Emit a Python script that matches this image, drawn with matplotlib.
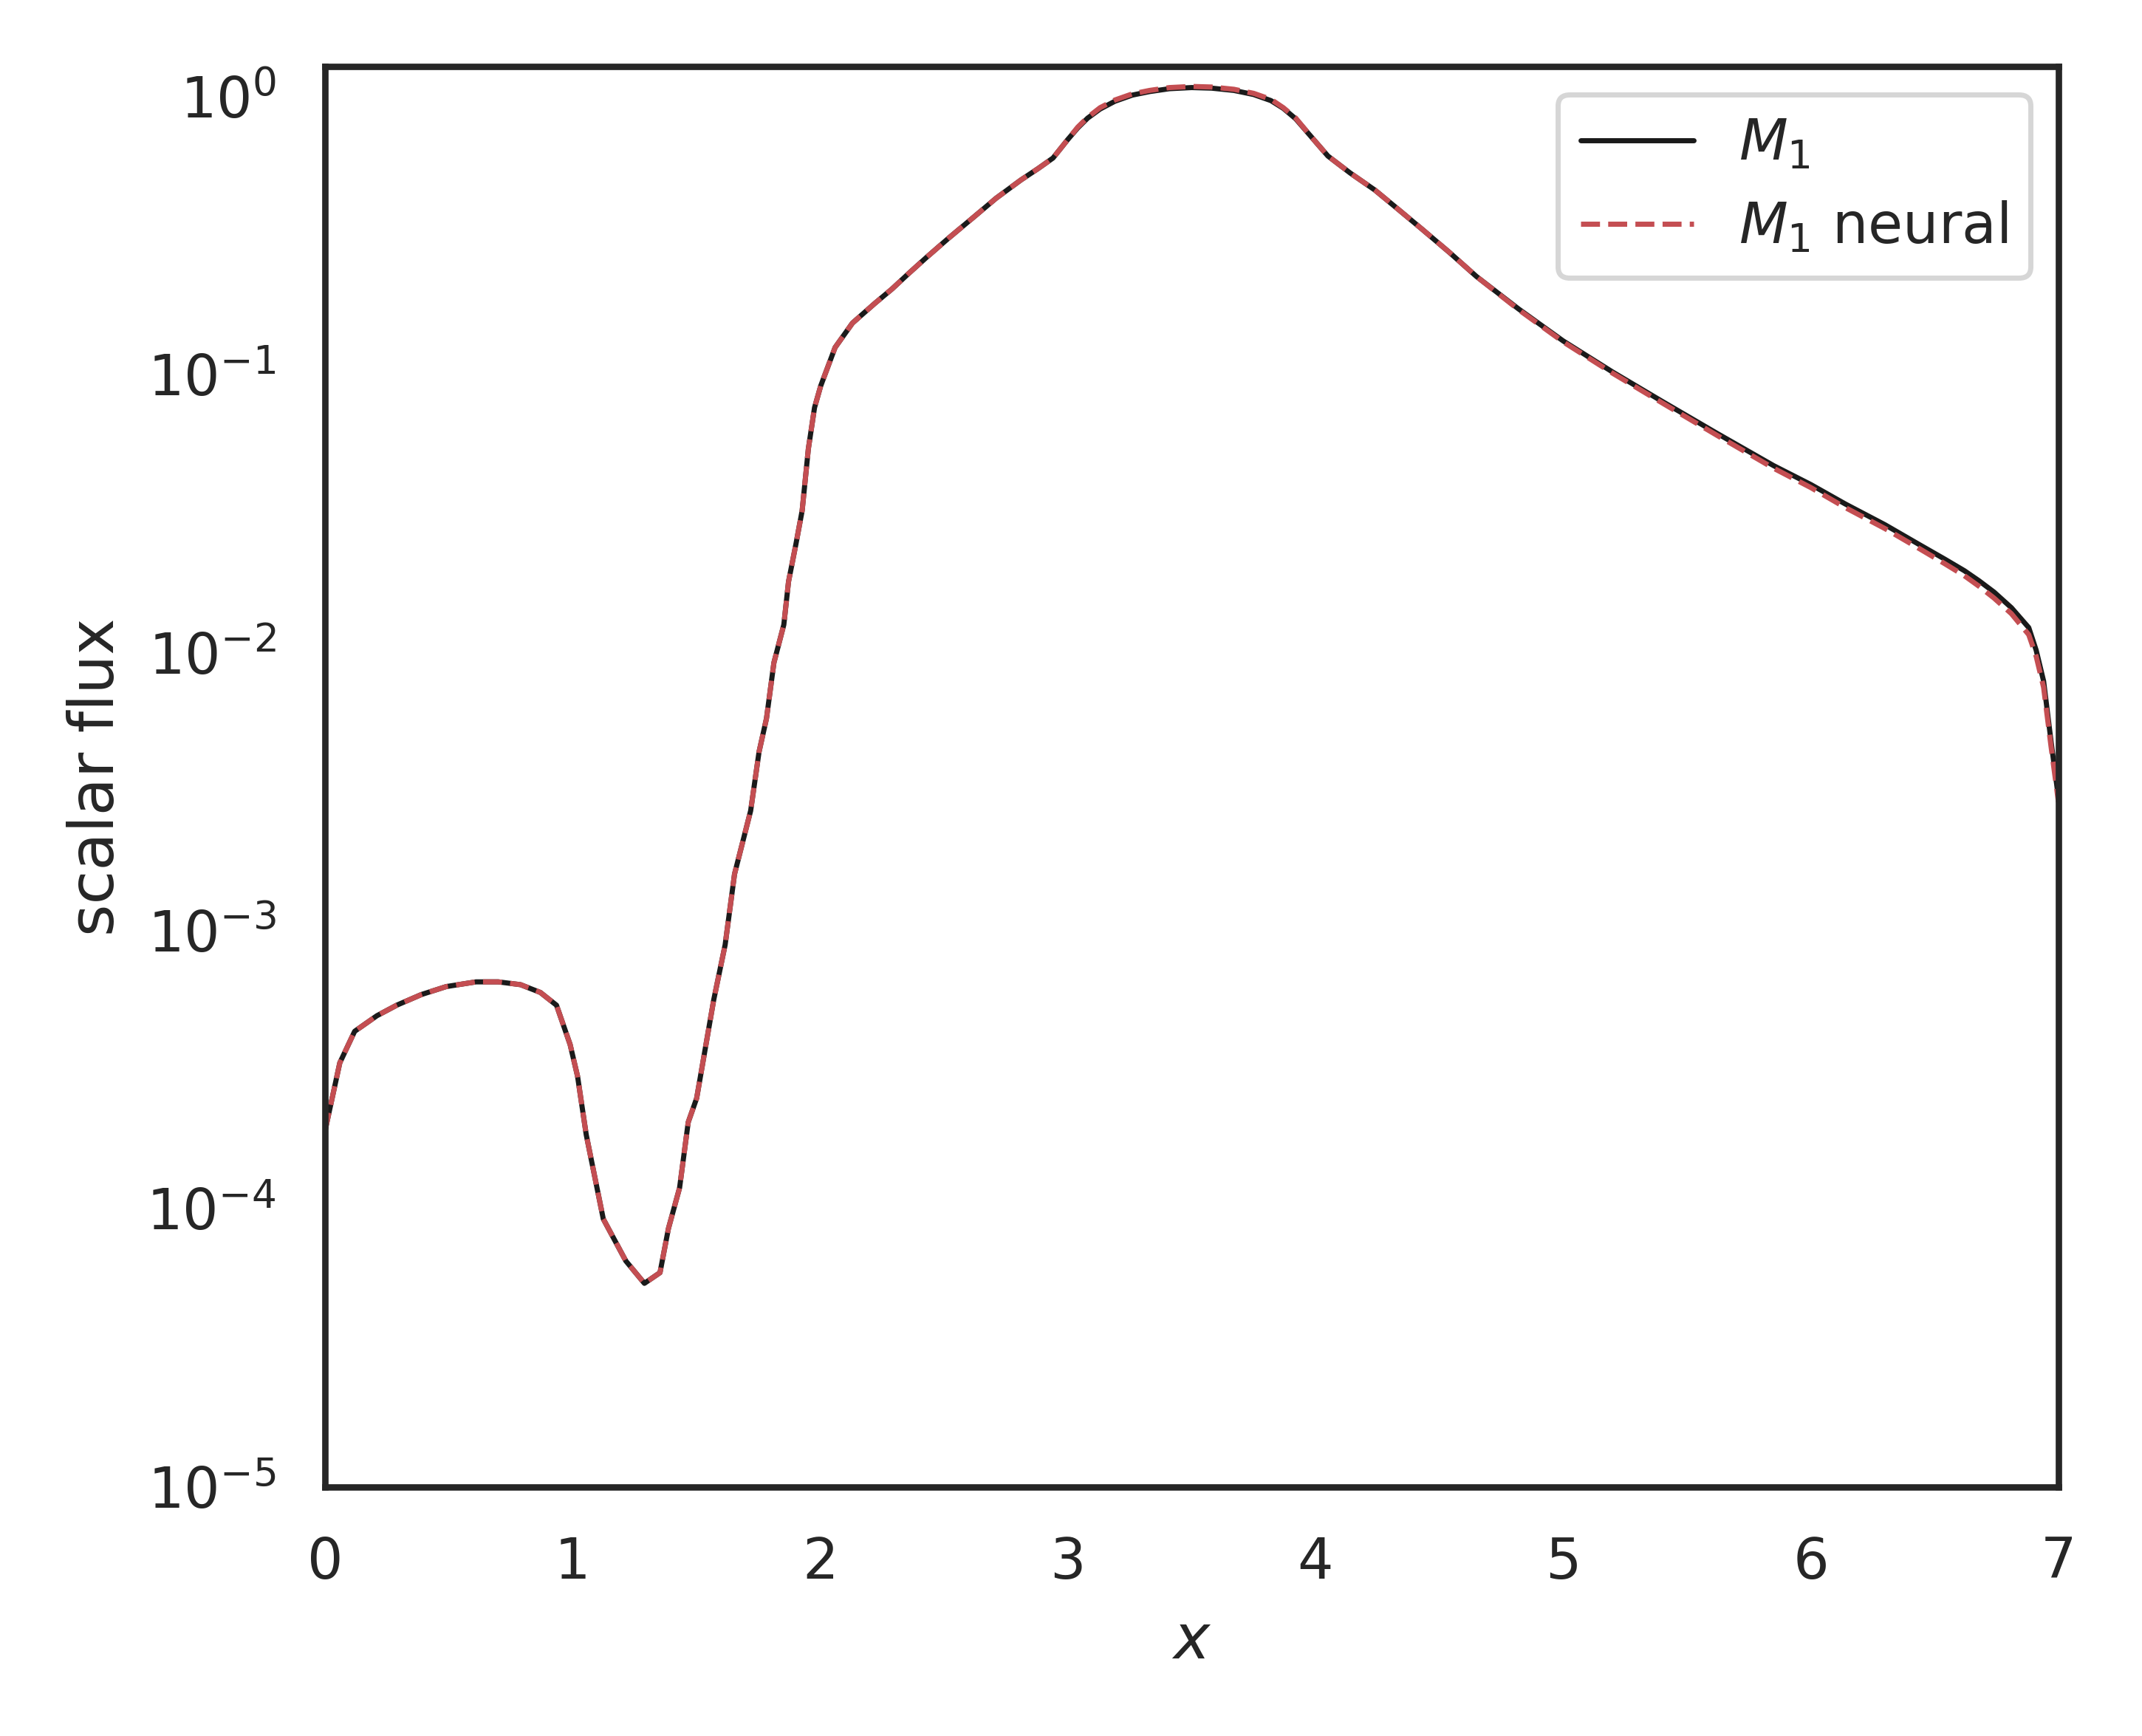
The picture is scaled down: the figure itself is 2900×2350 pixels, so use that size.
import matplotlib
matplotlib.use("Agg")
import matplotlib.pyplot as plt
import seaborn as sns

sns.set_theme(context="notebook", style="white")
sns.set_color_codes("deep")
plt.rcParams['font.family'] = ['DejaVu Sans']

x_vals = [0.00, 0.06, 0.12, 0.21, 0.29, 0.39, 0.49, 0.61, 0.70, 0.79, 0.87, 0.935,
          0.99, 1.02, 1.055, 1.124, 1.215, 1.29, 1.353, 1.387, 1.432, 1.467, 1.501,
          1.57, 1.616, 1.654, 1.719, 1.753, 1.783, 1.813, 1.853, 1.872, 1.902, 1.927,
          1.952, 1.977, 2.002, 2.06, 2.13, 2.22, 2.29, 2.36, 2.43, 2.52, 2.62, 2.71,
          2.81, 2.88, 2.94, 3.00, 3.04, 3.08, 3.13, 3.19, 3.26, 3.33, 3.41, 3.50, 3.58,
          3.67, 3.75, 3.82, 3.87, 3.92, 3.98, 4.05, 4.14, 4.24, 4.33, 4.43, 4.54, 4.65,
          4.82, 5.00, 5.20, 5.40, 5.62, 5.85, 6.00, 6.14, 6.30, 6.44, 6.54, 6.62, 6.68,
          6.74, 6.81, 6.88, 6.91, 6.94, 6.97, 7.00]

m1_flux = [1.9e-4, 3.35e-4, 4.35e-4, 4.95e-4, 5.4e-4, 5.9e-4, 6.3e-4, 6.55e-4, 6.55e-4,
           6.4e-4, 6.0e-4, 5.4e-4, 3.9e-4, 3.0e-4, 1.85e-4, 9.2e-5, 6.5e-5, 5.4e-5,
           5.9e-5, 8.5e-5, 1.19e-4, 2.05e-4, 2.5e-4, 5.65e-4, 8.9e-4, 1.6e-3, 2.7e-3,
           4.4e-3, 5.8e-3, 9.2e-3, 1.26e-2, 1.8e-2, 2.46e-2, 3.24e-2, 5.4e-2, 7.6e-2,
           9.1e-2, 0.125, 0.153, 0.18, 0.203, 0.232, 0.264, 0.31, 0.368, 0.43,
           0.50, 0.55, 0.60, 0.70, 0.77, 0.835, 0.90, 0.96, 1.01, 1.04, 1.065, 1.075, 1.07,
           1.05, 1.015, 0.965, 0.905, 0.83, 0.72, 0.61, 0.53, 0.46, 0.395, 0.333, 0.275, 0.225,
           0.172, 0.132, 0.102, 0.080, 0.0615, 0.047, 0.0402, 0.0342, 0.0288, 0.0244, 0.0217,
           0.0197, 0.0181, 0.0165, 0.0145, 0.0123, 0.0102, 0.0079, 0.0048, 0.0030]

m1_neural_flux = [1.9e-4, 3.35e-4, 4.35e-4, 4.95e-4, 5.4e-4, 5.9e-4, 6.3e-4, 6.55e-4, 6.55e-4,
                  6.4e-4, 6.0e-4, 5.4e-4, 3.9e-4, 3.0e-4, 1.85e-4, 9.2e-5, 6.5e-5, 5.4e-5,
                  5.9e-5, 8.5e-5, 1.19e-4, 2.05e-4, 2.5e-4, 5.65e-4, 8.9e-4, 1.6e-3, 2.7e-3,
                  4.4e-3, 5.8e-3, 9.2e-3, 1.26e-2, 1.8e-2, 2.46e-2, 3.24e-2, 5.4e-2, 7.6e-2,
                  9.1e-2, 0.125, 0.153, 0.18, 0.203, 0.232, 0.264, 0.31, 0.368, 0.43,
                  0.50, 0.55, 0.60, 0.70, 0.775, 0.84, 0.91, 0.97, 1.02, 1.05, 1.075, 1.085, 1.08,
                  1.06, 1.025, 0.975, 0.91, 0.835, 0.72, 0.61, 0.53, 0.46, 0.395, 0.333, 0.275, 0.225,
                  0.171, 0.131, 0.101, 0.079, 0.0605, 0.046, 0.0392, 0.0332, 0.0279, 0.0236, 0.0209,
                  0.0189, 0.0173, 0.0157, 0.0138, 0.0116, 0.0097, 0.0075, 0.0046, 0.0029]

labels = ["$M_1$", "$M_1$ neural"]
x_ticks = [0, 1, 2, 3, 4, 5, 6, 7]

fig = plt.figure(figsize=(5.8, 4.7), dpi=500)
ax = fig.add_axes([0.1517, 0.1434, 0.961 - 0.1517, 0.9617 - 0.1434])

ax.plot(x_vals, m1_flux, 'k-', linewidth=1, label=labels[0])
ax.plot(x_vals, m1_neural_flux, 'r--', linewidth=1, label=labels[1])

ax.set_yscale('log')
ax.set_xlim(0, 7)
ax.set_ylim(1e-5, 1.28)
ax.set_xticks(x_ticks)
ax.set_xlabel("$x$")
ax.set_ylabel("scalar flux")
ax.legend(loc='upper right')

fig.savefig("out.png", dpi=500)
